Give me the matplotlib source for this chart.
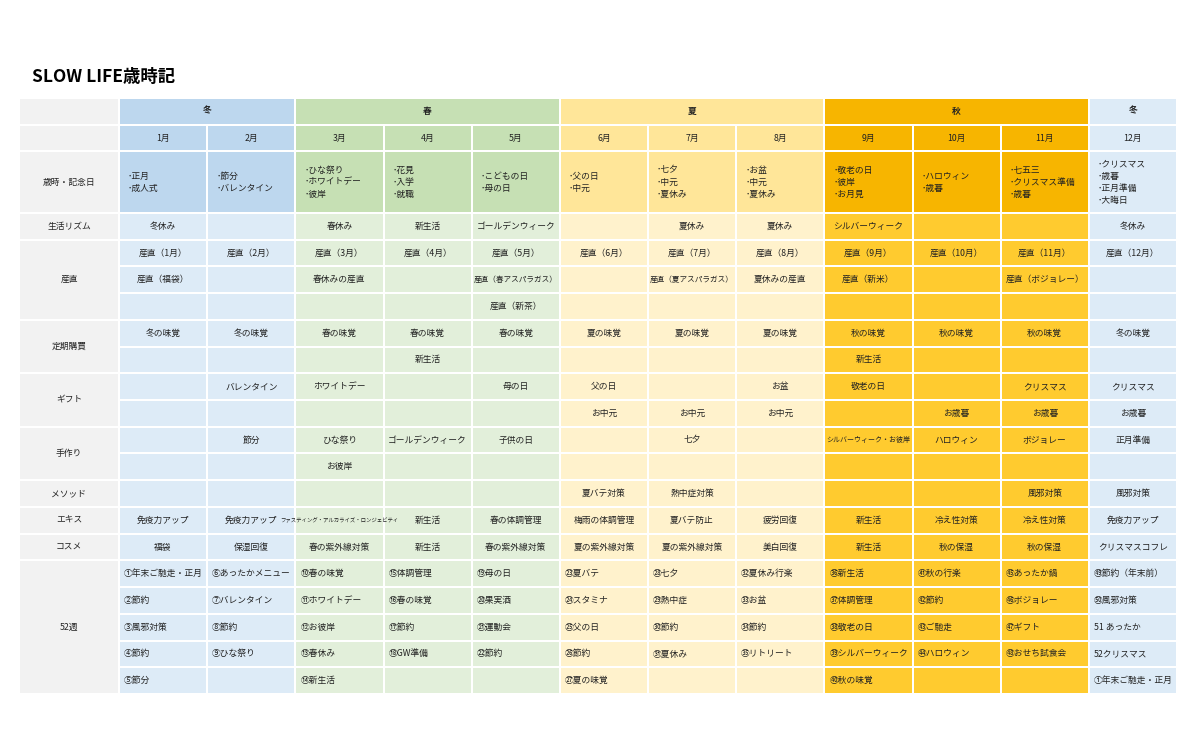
import matplotlib
matplotlib.use("Agg")
import matplotlib.pyplot as plt
from matplotlib.patches import Rectangle

plt.rcParams["font.family"] = ["Noto Sans CJK JP", "DejaVu Sans"]

TITLE = "SLOW LIFE歳時記"
SEASONS = [("冬", 0, 2), ("春", 2, 5), ("夏", 5, 8), ("秋", 8, 11), ("冬", 11, 12)]
MONTHS = [f"{m}月" for m in range(1, 13)]
SEASON_OF_MONTH = ["winter", "winter", "spring", "spring", "spring", "summer",
                   "summer", "summer", "autumn", "autumn", "autumn", "december"]

EVENTS = [["正月", "成人式"], ["節分", "バレンタイン"], ["ひな祭り", "ホワイトデー", "彼岸"],
          ["花見", "入学", "就職"], ["こどもの日", "母の日"], ["父の日", "中元"],
          ["七夕", "中元", "夏休み"], ["お盆", "中元", "夏休み"], ["敬老の日", "彼岸", "お月見"],
          ["ハロウィン", "歳暮"], ["七五三", "クリスマス準備", "歳暮"],
          ["クリスマス", "歳暮", "正月準備", "大晦日"]]

RHYTHM = ["冬休み", "", "春休み", "新生活", "ゴールデンウィーク", "", "夏休み", "夏休み",
          "シルバーウィーク", "", "", "冬休み"]
SANCHOKU_1 = [f"産直（{m}月）" for m in range(1, 13)]
SANCHOKU_2 = ["産直（福袋）", "", "春休みの産直", "", "産直（春アスパラガス）", "",
              "産直（夏アスパラガス）", "夏休みの産直", "産直（新米）", "", "産直（ボジョレー）", ""]
SANCHOKU_3 = ["", "", "", "", "産直（新茶）", "", "", "", "", "", "", ""]
TEIKI_1 = ["冬の味覚", "冬の味覚", "春の味覚", "春の味覚", "春の味覚", "夏の味覚", "夏の味覚",
           "夏の味覚", "秋の味覚", "秋の味覚", "秋の味覚", "冬の味覚"]
TEIKI_2 = ["", "", "", "新生活", "", "", "", "", "新生活", "", "", ""]
GIFT_1 = ["", "バレンタイン", "ホワイトデー", "", "母の日", "父の日", "", "お盆", "敬老の日", "",
          "クリスマス", "クリスマス"]
GIFT_2 = ["", "", "", "", "", "お中元", "お中元", "お中元", "", "お歳暮", "お歳暮", "お歳暮"]
HANDMADE_1 = ["", "節分", "ひな祭り", "ゴールデンウィーク", "子供の日", "", "七夕", "",
              "シルバーウィーク・お彼岸", "ハロウィン", "ボジョレー", "正月準備"]
HANDMADE_2 = ["", "", "お彼岸", "", "", "", "", "", "", "", "", ""]
METHOD = ["", "", "", "", "", "夏バテ対策", "熱中症対策", "", "", "", "風邪対策", "風邪対策"]
EXTRACT = ["免疫力アップ", "免疫力アップ", "ファスティング・アルカライズ・ロンジェビティ", "新生活",
           "春の体調管理", "梅雨の体調管理", "夏バテ防止", "疲労回復", "新生活", "冷え性対策",
           "冷え性対策", "免疫力アップ"]
COSME = ["福袋", "保湿回復", "春の紫外線対策", "新生活", "春の紫外線対策", "夏の紫外線対策",
         "夏の紫外線対策", "美白回復", "新生活", "秋の保湿", "秋の保湿", "クリスマスコフレ"]
WEEKS = [
    ["①年末ご馳走・正月", "②節約", "③風邪対策", "④節約", "⑤節分"],
    ["⑥あったかメニュー", "⑦バレンタイン", "⑧節約", "⑨ひな祭り", ""],
    ["⑩春の味覚", "⑪ホワイトデー", "⑫お彼岸", "⑬春休み", "⑭新生活"],
    ["⑮体調管理", "⑯春の味覚", "⑰節約", "⑱GW準備", ""],
    ["⑲母の日", "⑳果実酒", "㉑運動会", "㉒節約", ""],
    ["㉓夏バテ", "㉔スタミナ", "㉕父の日", "㉖節約", "㉗夏の味覚"],
    ["㉘七夕", "㉙熱中症", "㉚節約", "㉛夏休み", ""],
    ["㉜夏休み行楽", "㉝お盆", "㉞節約", "㉟リトリート", ""],
    ["㊱新生活", "㊲体調管理", "㊳敬老の日", "㊴シルバーウィーク", "㊵秋の味覚"],
    ["㊶秋の行楽", "㊷節約", "㊸ご馳走", "㊹ハロウィン", ""],
    ["㊺あったか鍋", "㊻ボジョレー", "㊼ギフト", "㊽おせち試食会", ""],
    ["㊾節約（年末前）", "㊿風邪対策", "51 あったか", "52クリスマス", "①年末ご馳走・正月"],
]

# (label, list of rows) groups below the header
GROUPS = [
    ("生活リズム", [RHYTHM]),
    ("産直", [SANCHOKU_1, SANCHOKU_2, SANCHOKU_3]),
    ("定期購買", [TEIKI_1, TEIKI_2]),
    ("ギフト", [GIFT_1, GIFT_2]),
    ("手作り", [HANDMADE_1, HANDMADE_2]),
    ("メソッド", [METHOD]),
    ("エキス", [EXTRACT]),
    ("コスメ", [COSME]),
]

HEAD = {"winter": "#BDD7EE", "spring": "#C6E0B4", "summer": "#FFE699",
        "autumn": "#F7B500", "december": "#DDEBF7"}
BODY = {"winter": "#DDEBF7", "spring": "#E2EFDA", "summer": "#FFF2CC",
        "autumn": "#FFCB2F", "december": "#DDEBF7"}
LABEL_BG = "#F2F2F2"
INK = "#222222"
FS = 6.3

LEFT, TOP, BOTTOM = 20, 99, 695
LABEL_W = 100
COL_W = (1178 - LEFT - LABEL_W) / 12
GAP = 2.0

fig = plt.figure(figsize=(12, 7.53), dpi=100)
ax = fig.add_axes([0, 0, 1, 1])
ax.set_xlim(0, 1200)
ax.set_ylim(753, 0)
ax.axis("off")

ax.text(32, 77, TITLE, fontsize=12.5, fontweight="bold", va="center", ha="left", color="black")

n_units = 2 + 2.3 + sum(len(r) for _, r in GROUPS) + 5
unit = (BOTTOM - TOP) / n_units


def col_x(i):
    return LEFT + LABEL_W + i * COL_W


def cell(x, y, w, h, color):
    ax.add_patch(Rectangle((x, y), w - GAP, h - GAP, facecolor=color, edgecolor="none"))


def label_cell(y, h, text):
    cell(LEFT, y, LABEL_W, h, LABEL_BG)
    ax.text(LEFT + (LABEL_W - GAP) / 2, y + (h - GAP) / 2, text, fontsize=FS,
            ha="center", va="center", color=INK)


def fit_size(t):
    if len(t) > 16:
        return 3.9
    if len(t) > 10:
        return FS * 9.6 / len(t)
    return FS


y = TOP
# season row
label_cell(y, unit, "")
for name, a, b in SEASONS:
    key = SEASON_OF_MONTH[a]
    cell(col_x(a), y, COL_W * (b - a), unit, HEAD[key])
    ax.text(col_x(a) + (COL_W * (b - a) - GAP) / 2, y + (unit - GAP) / 2, name,
            fontsize=FS, fontweight="bold", ha="center", va="center", color=INK)
y += unit
# month row
label_cell(y, unit, "")
for i, m in enumerate(MONTHS):
    cell(col_x(i), y, COL_W, unit, HEAD[SEASON_OF_MONTH[i]])
    ax.text(col_x(i) + (COL_W - GAP) / 2, y + (unit - GAP) / 2, m, fontsize=FS,
            ha="center", va="center", color=INK)
y += unit
# events row
h = unit * 2.3
label_cell(y, h, "歳時・記念日")
for i, ev in enumerate(EVENTS):
    cell(col_x(i), y, COL_W, h, HEAD[SEASON_OF_MONTH[i]])
    ax.text(col_x(i) + 8, y + (h - GAP) / 2, "\n".join("･" + e for e in ev), fontsize=FS,
            ha="left", va="center", color=INK, linespacing=1.45)
y += h

for label, rows in GROUPS:
    label_cell(y, unit * len(rows), label)
    for row in rows:
        for i, t in enumerate(row):
            cell(col_x(i), y, COL_W, unit, BODY[SEASON_OF_MONTH[i]])
            if t:
                ax.text(col_x(i) + (COL_W - GAP) / 2, y + (unit - GAP) / 2, t,
                        fontsize=fit_size(t), ha="center", va="center", color=INK)
        y += unit

label_cell(y, unit * 5, "52週")
for r in range(5):
    for i, col in enumerate(WEEKS):
        cell(col_x(i), y, COL_W, unit, BODY[SEASON_OF_MONTH[i]])
        if col[r]:
            ax.text(col_x(i) + 4, y + (unit - GAP) / 2, col[r], fontsize=FS,
                    ha="left", va="center", color=INK)
    y += unit

fig.savefig("out.png", dpi=100, facecolor="white")
